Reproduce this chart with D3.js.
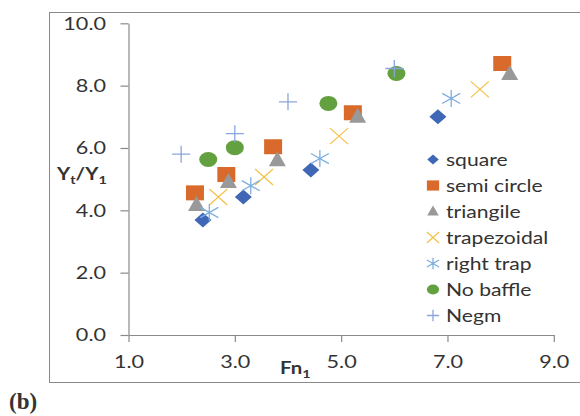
<!DOCTYPE html>
<html lang="en">
<head>
<meta charset="utf-8">
<title>Yt/Y1 vs Fn1</title>
<script src="https://cdn.jsdelivr.net/npm/d3@7/dist/d3.min.js"></script>
<style>
  body { margin: 0; background: #fff; }
  text { font-family: Lato, "Open Sans", sans-serif; fill: #333; }
</style>
</head>
<body>
<script>
// data
var squareX = [2.40, 3.16, 4.43, 6.82];
var squareY = [3.69, 4.43, 5.29, 7.00];
var semiX = [2.25, 2.84, 3.72, 5.22, 8.03];
var semiY = [4.56, 5.15, 6.04, 7.13, 8.71];
var triX = [2.28, 2.88, 3.80, 5.31, 8.17];
var triY = [4.17, 4.91, 5.61, 7.00, 8.37];
var trapX = [2.69, 3.55, 4.96, 7.61];
var trapY = [4.43, 5.07, 6.38, 7.88];
var rtrapX = [2.52, 3.30, 4.60, 7.07];
var rtrapY = [3.93, 4.79, 5.66, 7.59];
var noBaffleX = [2.50, 3.00, 4.76, 6.04];
var noBaffleY = [5.63, 6.01, 7.43, 8.39];
var negmX = [1.99, 3.00, 4.00, 6.00];
var negmY = [5.80, 6.46, 7.48, 8.55];

var xTicks = [1, 3, 5, 7, 9];
var yTicks = [0, 2, 4, 6, 8, 10];
var seriesNames = ["square", "semi circle", "triangile", "trapezoidal", "right trap", "No baffle", "Negm"];

var width = 580, height = 416;
var svg = d3.select("body").append("svg")
    .attr("width", width)
    .attr("height", height);

// outer chart frame
svg.append("rect")
    .attr("x", 49.5).attr("y", 12.5)
    .attr("width", 540).attr("height", 370)
    .attr("fill", "none").attr("stroke", "#8a8a8a");

var xScale = d3.scaleLinear().domain([1, 9]).range([128.5, 553.8]);
var yScale = d3.scaleLinear().domain([0, 10]).range([335, 23.3]);
var fmt = d3.format(".1f");
var stretch = 1.2; // the picture is widened horizontally

var yAxis = d3.axisLeft(yScale).tickValues(yTicks).tickFormat(fmt).tickSize(8).tickSizeOuter(0);
var xAxis = d3.axisBottom(xScale).tickValues(xTicks).tickFormat(fmt).tickSize(7).tickSizeOuter(0);

var gy = svg.append("g").attr("transform", "translate(" + xScale(1) + ",0)").call(yAxis);
var gx = svg.append("g").attr("transform", "translate(0," + yScale(0) + ")").call(xAxis);

[gx, gy].forEach(function(g) {
    g.selectAll("path, line").attr("stroke", "#8a8a8a").attr("stroke-width", 1.2);
    g.selectAll("text")
        .style("font-family", "Lato, sans-serif")
        .style("font-size", "18px")
        .attr("fill", "#333");
});
gy.selectAll("text").attr("x", -22.5 / stretch).attr("transform", "scale(" + stretch + ",1)");
gx.selectAll("text").attr("y", 20).attr("transform", "scale(" + stretch + ",1)");

// marker shapes, w and h in px
function diamondPath(w, h) {
    var p = d3.path();
    p.moveTo(0, -h / 2); p.lineTo(w / 2, 0); p.lineTo(0, h / 2); p.lineTo(-w / 2, 0); p.closePath();
    return p.toString();
}
function rectPath(w, h) {
    var p = d3.path();
    p.rect(-w / 2, -h / 2, w, h);
    return p.toString();
}
function triPath(w, h) {
    var p = d3.path();
    p.moveTo(0, -h * 0.6); p.lineTo(w / 2, h * 0.4); p.lineTo(-w / 2, h * 0.4); p.closePath();
    return p.toString();
}
function xPath(w, h) {
    var p = d3.path();
    p.moveTo(-w / 2, -h / 2); p.lineTo(w / 2, h / 2);
    p.moveTo(w / 2, -h / 2); p.lineTo(-w / 2, h / 2);
    return p.toString();
}
function starPath(w, h) {
    var p = d3.path();
    p.moveTo(0, -h / 2); p.lineTo(0, h / 2);
    p.moveTo(-w / 2, -h * 0.3); p.lineTo(w / 2, h * 0.3);
    p.moveTo(w / 2, -h * 0.3); p.lineTo(-w / 2, h * 0.3);
    return p.toString();
}
function ellipsePath(w, h) {
    var rx = w / 2, ry = h / 2;
    return "M" + (-rx) + ",0A" + rx + "," + ry + " 0 1,0 " + rx + ",0A" + rx + "," + ry + " 0 1,0 " + (-rx) + ",0Z";
}
function plusPath(w, h) {
    var p = d3.path();
    p.moveTo(-w / 2, 0); p.lineTo(w / 2, 0);
    p.moveTo(0, -h / 2); p.lineTo(0, h / 2);
    return p.toString();
}

var series = [
    {name: seriesNames[0], xs: squareX, ys: squareY, shape: diamondPath, w: 17, h: 15, fill: "#3f67b5", stroke: "none", lw: 0},
    {name: seriesNames[1], xs: semiX, ys: semiY, shape: rectPath, w: 18, h: 15, fill: "#d96a2b", stroke: "none", lw: 0},
    {name: seriesNames[2], xs: triX, ys: triY, shape: triPath, w: 17, h: 15, fill: "#999999", stroke: "none", lw: 0},
    {name: seriesNames[3], xs: trapX, ys: trapY, shape: xPath, w: 18, h: 16, fill: "none", stroke: "#f3c24a", lw: 1.3},
    {name: seriesNames[4], xs: rtrapX, ys: rtrapY, shape: starPath, w: 18, h: 17, fill: "none", stroke: "#7eaedf", lw: 1.3},
    {name: seriesNames[5], xs: noBaffleX, ys: noBaffleY, shape: ellipsePath, w: 18, h: 15, fill: "#63a03f", stroke: "none", lw: 0},
    {name: seriesNames[6], xs: negmX, ys: negmY, shape: plusPath, w: 18, h: 17, fill: "none", stroke: "#8aa5dc", lw: 1.3}
];

series.forEach(function(s) {
    var pts = s.xs.map(function(x, i) { return {x: x, y: s.ys[i]}; });
    svg.append("g").selectAll("path")
        .data(pts)
        .enter().append("path")
        .attr("transform", function(d) { return "translate(" + xScale(d.x) + "," + yScale(d.y) + ")"; })
        .attr("d", s.shape(s.w, s.h))
        .attr("fill", s.fill)
        .attr("stroke", s.stroke)
        .attr("stroke-width", s.lw);
});

// legend
var legend = svg.append("g").attr("transform", "translate(433,159.5)");
var rows = legend.selectAll("g").data(series).enter().append("g")
    .attr("transform", function(d, i) { return "translate(0," + (i * 26) + ")"; });
rows.append("path")
    .attr("d", function(d) { return d.shape(d.w * 0.68, d.h * 0.68); })
    .attr("fill", function(d) { return d.fill; })
    .attr("stroke", function(d) { return d.stroke; })
    .attr("stroke-width", function(d) { return d.lw; });
rows.append("text")
    .attr("x", 13 / stretch)
    .attr("dy", "0.35em")
    .attr("transform", "scale(" + stretch + ",1)")
    .style("font-size", "17.6px")
    .text(function(d) { return d.name; });

// axis titles
var yt = svg.append("text")
    .attr("transform", "translate(57,180) scale(" + stretch + ",1)")
    .style("font-size", "17px").style("font-weight", "bold").attr("fill", "#222");
yt.append("tspan").text("Y");
yt.append("tspan").attr("dy", 4).style("font-size", "12px").text("t");
yt.append("tspan").attr("dy", -4).text("/Y");
yt.append("tspan").attr("dy", 4).style("font-size", "12px").text("1");

var xt = svg.append("text")
    .attr("transform", "translate(280,374) scale(" + stretch + ",1)")
    .style("font-size", "17px").style("font-weight", "bold").attr("fill", "#222");
xt.append("tspan").text("Fn");
xt.append("tspan").attr("dy", 4).style("font-size", "12px").text("1");

svg.append("text")
    .attr("x", 9).attr("y", 409)
    .style("font-family", "'Liberation Serif', serif")
    .style("font-size", "23px").style("font-weight", "bold")
    .attr("fill", "#111")
    .text("(b)");
</script>
</body>
</html>
